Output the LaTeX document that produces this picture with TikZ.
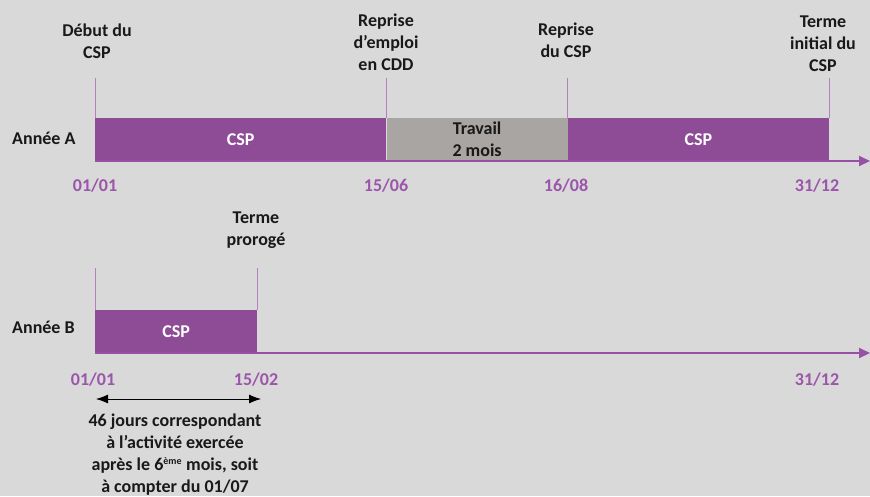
\documentclass[tikz,border=0pt]{standalone}
\usepackage{fontspec}
\setmainfont{Carlito}
\usetikzlibrary{positioning, arrows.meta, calc}

\definecolor{cspviolet}{RGB}{142,75,150}
\definecolor{axisviolet}{RGB}{150,80,165}
\definecolor{tickviolet}{RGB}{180,128,190}
\definecolor{datecol}{RGB}{155,85,170}
\definecolor{workgray}{RGB}{168,165,163}
\definecolor{bggray}{RGB}{217,217,217}

\begin{document}
\begin{tikzpicture}[
  x=1pt, y=-1pt,
  font=\fontsize{18}{22}\selectfont\bfseries,
  cspbar/.style={fill=cspviolet, text=white, inner sep=0pt, minimum height=43pt,
    anchor=south west, align=center},
  workbar/.style={fill=workgray, text=black!90, inner sep=0pt, minimum height=43pt,
    anchor=south west, align=center},
  event/.style={align=center, text=black!90, inner sep=0pt},
  date/.style={text=datecol, inner sep=0pt},
  year/.style={text=black!90, inner sep=0pt, anchor=west},
  axis/.style={-{Triangle[length=11pt, width=10pt]}, line width=2pt, draw=axisviolet},
  tick/.style={line width=0.9pt, draw=tickviolet},
  span/.style={{Latex[length=12pt, width=9pt]}-{Latex[length=12pt, width=9pt]}, line width=0.8pt, draw=black}
]

% background and frame
\fill[bggray] (0,0) rectangle (870,496);
\useasboundingbox (0,0) rectangle (870,496);

% ---- year A
\coordinate (a0) at (95,161);
\coordinate (aend) at (870,161);
\node[cspbar, minimum width=291pt] (a1) at (a0) {CSP};
\node[workbar, minimum width=181pt] (a2) at (a1.south east) {Travail\\2 mois};
\node[cspbar, minimum width=261pt] (a3) at (a2.south east) {CSP};
\draw[axis] (a0) -- (aend);

\node[year] (ya) at (12,138) {Année A};

% event labels above year A
\node[event] (ea1) at (97,41)  {Début du\\CSP};
\node[event] (ea2) at (386,42) {Reprise\\d’emploi\\en CDD};
\node[event] (ea3) at (566,40) {Reprise\\du CSP};
\node[event] (ea4) at (823,44) {Terme\\initial du\\CSP};

\draw[tick] (a1.north west) -- ++(0,-40);
\draw[tick] (a1.north east) -- ++(0,-40);
\draw[tick] (a3.north west) -- ++(0,-40);
\draw[tick] (a3.north east) -- ++(0,-40);

% dates year A
\node[date] (da1) at (95,186)  {01/01};
\node[date] (da2) at (386,186) {15/06};
\node[date] (da3) at (566,186) {16/08};
\node[date] (da4) at (817,186) {31/12};

% ---- year B
\coordinate (b0) at (95,353);
\coordinate (bend) at (870,353);
\node[cspbar, minimum width=162pt] (b1) at (b0) {CSP};
\draw[axis] (b0) -- (bend);

\node[year] (yb) at (12,327) {Année B};

\node[event] (eb1) at (256,230) {Terme\\prorogé};
\draw[tick] (b1.north west) -- ++(0,-42);
\draw[tick] (b1.north east) -- ++(0,-42);

% dates year B
\node[date] (db1) at (93,380)  {01/01};
\node[date] (db2) at (256,380) {15/02};
\node[date] (db3) at (817,380) {31/12};

% extension span
\coordinate (s0) at (96,399);
\coordinate (s1) at (261,399);
\draw[span] (s0) -- (s1);
\node[event] (note) at (175,455)
  {46 jours correspondant\\à l’activité exercée\\après le 6\textsuperscript{\fontsize{10}{10}\selectfont ème} mois, soit\\à compter du 01/07};

\end{tikzpicture}
\end{document}
